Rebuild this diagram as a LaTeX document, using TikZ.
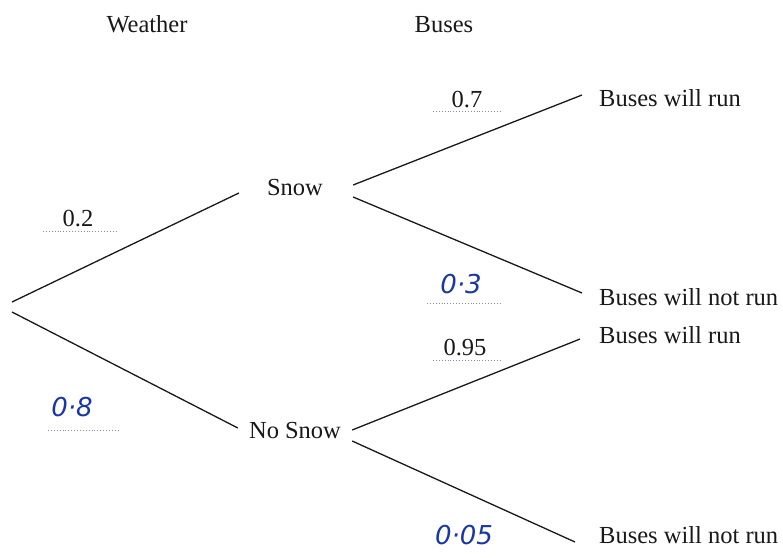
\documentclass[tikz,border=0pt]{standalone}
\usepackage{fontspec}
\setmainfont{Liberation Serif}
\newfontfamily\handfont{DejaVu Sans}[ItalicFont={DejaVu Sans Oblique}]
\usetikzlibrary{calc}
\definecolor{ink}{RGB}{25,25,25}
\definecolor{pen}{RGB}{25,55,165}
\definecolor{dotc}{RGB}{130,140,190}
\tikzset{
  txt/.style={inner sep=0pt, text=ink, font=\fontsize{24.5}{27}\selectfont, text height=16pt, text depth=0pt},
  prob/.style={inner sep=0pt, text=ink, font=\fontsize{24.5}{27}\selectfont},
  hand/.style={inner sep=0pt, text=pen, font=\handfont\itshape\fontsize{26}{29}\selectfont},
  branch/.style={draw=ink, line width=1.3pt},
  dotline/.style={draw=dotc, line width=0.9pt, dotted}
}
\begin{document}
\begin{tikzpicture}[x=1pt,y=-1pt]
\useasboundingbox[fill=white] (0,0) rectangle (783,557);
% headings
\node[txt, anchor=base] (hweather) at (147,32) {Weather};
\node[txt, anchor=base] (hbuses) at (444,32) {Buses};
% root
\coordinate (r1) at (12,302);
\coordinate (r2) at (12,312);
% middle nodes
\node[txt, anchor=base] (snow) at (295,195) {Snow};
\node[txt, anchor=base] (nosnow) at (295,438) {No Snow};
% leaves
\node[txt, anchor=base west] (l1) at (599,106) {Buses will run};
\node[txt, anchor=base west] (l2) at (599,305) {Buses will not run};
\node[txt, anchor=base west] (l3) at (599,343) {Buses will run};
\node[txt, anchor=base west] (l4) at (599,543) {Buses will not run};
% branches
\draw[branch] (r1) -- ($(snow.west)+(-28,6)$);
\draw[branch] (r2) -- ($(nosnow.west)+(-11,-2)$);
\draw[branch] ($(snow.east)+(30,-2)$) -- ($(l1.west)+(-17,-3)$);
\draw[branch] ($(snow.east)+(30,10)$) -- ($(l2.west)+(-17,-4)$);
\draw[branch] ($(nosnow.east)+(11,0)$) -- ($(l3.west)+(-19,4)$);
\draw[branch] ($(nosnow.east)+(11,11)$) -- ($(l4.west)+(-24,7)$);
% probabilities
\node[prob, anchor=base] (p02) at (78,226) {0.2};
\node[prob, anchor=base] (p07) at (467,107) {0.7};
\node[prob, anchor=base] (p095) at (465,355) {0.95};
\node[hand] (p03) at (461,284) {0·3};
\node[hand] (p08) at (72,407) {0·8};
\node[hand] (p005) at (464,535) {0·05};
% dotted answer lines
\coordinate (d1a) at (43,231); \coordinate (d1b) at (117,231);
\coordinate (d2a) at (433,111); \coordinate (d2b) at (502,111);
\coordinate (d3a) at (427,303); \coordinate (d3b) at (500,303);
\coordinate (d4a) at (433,360); \coordinate (d4b) at (500,360);
\coordinate (d5a) at (48,430); \coordinate (d5b) at (118,430);
\draw[dotline] (d1a) -- (d1b);
\draw[dotline] (d2a) -- (d2b);
\draw[dotline] (d3a) -- (d3b);
\draw[dotline] (d4a) -- (d4b);
\draw[dotline] (d5a) -- (d5b);
\end{tikzpicture}
\end{document}
